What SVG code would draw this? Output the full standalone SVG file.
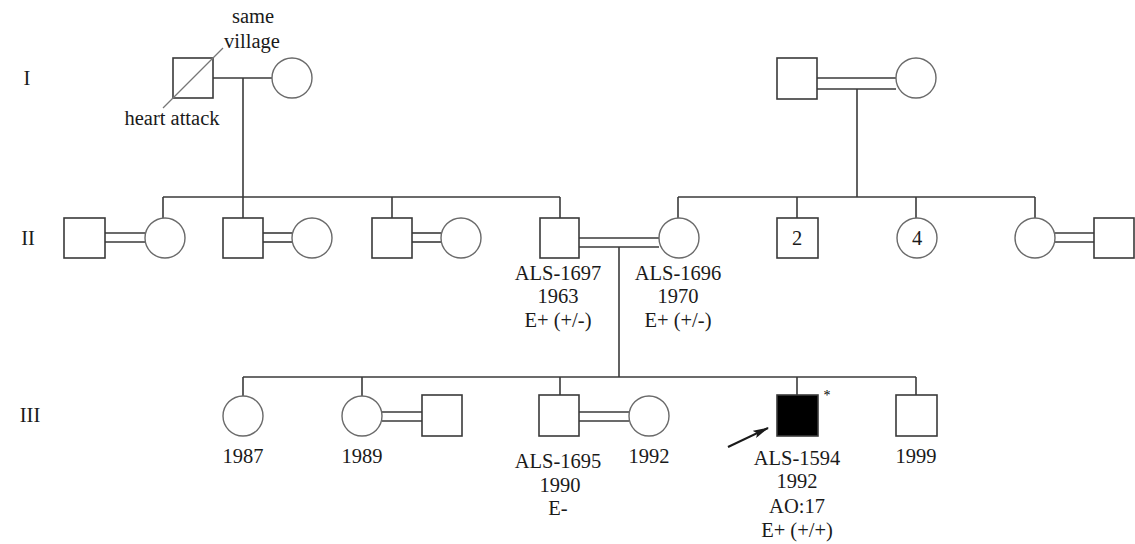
<svg xmlns="http://www.w3.org/2000/svg" width="1135" height="544" viewBox="0 0 1135 544">
<style>
.m{fill:#fff;stroke:#3a3a3a;stroke-width:1.6}
.f{fill:#fff;stroke:#6a6a6a;stroke-width:1.4}
.a{fill:#000;stroke:#3a3a3a;stroke-width:1.6}
.l{fill:none;stroke:#3a3a3a;stroke-width:1.6}
.t{font-family:"Liberation Serif","Times New Roman",serif;font-size:20.5px;fill:#1a1a1a;text-anchor:middle}
</style>
<defs>
<marker id="ah" viewBox="0 0 16 8" refX="15" refY="4" markerWidth="16" markerHeight="8" markerUnits="userSpaceOnUse" orient="auto">
<path d="M0,0 L16,4 L0,8 L3,4 Z" fill="#1a1a1a"/>
</marker>
</defs>
<g id="gen-labels">
<text class="t" x="27" y="85">I</text>
<text class="t" x="28" y="245">II</text>
<text class="t" x="30" y="422">III</text>
</g>
<g id="connectors">
<line class="l" x1="213" y1="78" x2="272" y2="78"/>
<line class="l" x1="243" y1="78" x2="243" y2="197"/>
<line class="l" x1="163" y1="197" x2="560" y2="197"/>
<line class="l" x1="163" y1="197" x2="163" y2="218"/>
<line class="l" x1="243" y1="197" x2="243" y2="218"/>
<line class="l" x1="392" y1="197" x2="392" y2="218"/>
<line class="l" x1="560" y1="197" x2="560" y2="218"/>
<line class="l" x1="817" y1="78" x2="896" y2="78"/>
<line class="l" x1="817" y1="89" x2="896" y2="89"/>
<line class="l" x1="857" y1="89" x2="857" y2="197"/>
<line class="l" x1="678" y1="197" x2="1035" y2="197"/>
<line class="l" x1="678" y1="197" x2="678" y2="218"/>
<line class="l" x1="797" y1="197" x2="797" y2="218"/>
<line class="l" x1="916" y1="197" x2="916" y2="218"/>
<line class="l" x1="1035" y1="197" x2="1035" y2="218"/>
<line class="l" x1="105" y1="233" x2="145" y2="233"/>
<line class="l" x1="105" y1="242" x2="145" y2="242"/>
<line class="l" x1="263" y1="233" x2="292" y2="233"/>
<line class="l" x1="263" y1="242" x2="292" y2="242"/>
<line class="l" x1="412" y1="233" x2="441" y2="233"/>
<line class="l" x1="412" y1="242" x2="441" y2="242"/>
<line class="l" x1="579" y1="238" x2="659" y2="238"/>
<line class="l" x1="579" y1="247" x2="659" y2="247"/>
<line class="l" x1="1055" y1="233" x2="1094" y2="233"/>
<line class="l" x1="1055" y1="242" x2="1094" y2="242"/>
<line class="l" x1="619" y1="247" x2="619" y2="377"/>
<line class="l" x1="243" y1="377" x2="916" y2="377"/>
<line class="l" x1="243" y1="377" x2="243" y2="396"/>
<line class="l" x1="362" y1="377" x2="362" y2="396"/>
<line class="l" x1="560" y1="377" x2="560" y2="395"/>
<line class="l" x1="797" y1="377" x2="797" y2="395"/>
<line class="l" x1="916" y1="377" x2="916" y2="395"/>
<line class="l" x1="382" y1="412" x2="422" y2="412"/>
<line class="l" x1="382" y1="421" x2="422" y2="421"/>
<line class="l" x1="579" y1="412" x2="629" y2="412"/>
<line class="l" x1="579" y1="421" x2="629" y2="421"/>
<line x1="728" y1="447" x2="768" y2="428" stroke="#1a1a1a" stroke-width="2.2" marker-end="url(#ah)"/>
</g>
<g id="I-1">
<rect class="m" x="173" y="58" width="40" height="40"/>
<line x1="163" y1="108" x2="223" y2="48" stroke="#777" stroke-width="1.2"/>
<text class="t" x="253" y="23">same</text>
<text class="t" x="252" y="48">village</text>
<text class="t" x="172" y="125">heart attack</text>
</g>
<g id="I-2"><circle class="f" cx="292" cy="78" r="20"/></g>
<g id="I-3"><rect class="m" x="777" y="58" width="40" height="41"/></g>
<g id="I-4"><circle class="f" cx="916" cy="78" r="20"/></g>
<g id="II-1"><rect class="m" x="64" y="218" width="41" height="40"/></g>
<g id="II-2"><circle class="f" cx="165" cy="238" r="20"/></g>
<g id="II-3"><rect class="m" x="223" y="218" width="40" height="40"/></g>
<g id="II-4"><circle class="f" cx="312" cy="238" r="20"/></g>
<g id="II-5"><rect class="m" x="372" y="218" width="40" height="40"/></g>
<g id="II-6"><circle class="f" cx="461" cy="238" r="20"/></g>
<g id="II-7">
<rect class="m" x="540" y="218" width="39" height="40"/>
<text class="t" x="558" y="280">ALS-1697</text>
<text class="t" x="558" y="303">1963</text>
<text class="t" x="558" y="327">E+ (+/-)</text>
</g>
<g id="II-8">
<circle class="f" cx="679" cy="238" r="20"/>
<text class="t" x="678" y="280">ALS-1696</text>
<text class="t" x="678" y="303">1970</text>
<text class="t" x="678" y="327">E+ (+/-)</text>
</g>
<g id="II-9">
<rect class="m" x="777" y="218" width="41" height="40"/>
<text class="t" x="797" y="245">2</text>
</g>
<g id="II-10">
<circle class="f" cx="917" cy="238" r="20"/>
<text class="t" x="917" y="245">4</text>
</g>
<g id="II-11"><circle class="f" cx="1035" cy="238" r="20"/></g>
<g id="II-12"><rect class="m" x="1094" y="218" width="40" height="40"/></g>
<g id="III-1">
<circle class="f" cx="243" cy="416" r="20"/>
<text class="t" x="243" y="463">1987</text>
</g>
<g id="III-2">
<circle class="f" cx="362" cy="416" r="20"/>
<text class="t" x="362" y="463">1989</text>
</g>
<g id="III-3"><rect class="m" x="422" y="395" width="40" height="41"/></g>
<g id="III-4">
<rect class="m" x="539" y="395" width="40" height="41"/>
<text class="t" x="558" y="468">ALS-1695</text>
<text class="t" x="560" y="492">1990</text>
<text class="t" x="558" y="515">E-</text>
</g>
<g id="III-5">
<circle class="f" cx="649" cy="416" r="20"/>
<text class="t" x="649" y="463">1992</text>
</g>
<g id="III-6">
<rect class="a" x="777" y="395" width="41" height="41"/>
<text x="827" y="400" font-family="Liberation Serif, serif" font-size="14" fill="#000" text-anchor="middle">*</text>
<text class="t" x="797" y="465">ALS-1594</text>
<text class="t" x="797" y="488">1992</text>
<text class="t" x="797" y="513">AO:17</text>
<text class="t" x="797" y="537">E+ (+/+)</text>
</g>
<g id="III-7">
<rect class="m" x="896" y="395" width="41" height="41"/>
<text class="t" x="916" y="463">1999</text>
</g>
</svg>
